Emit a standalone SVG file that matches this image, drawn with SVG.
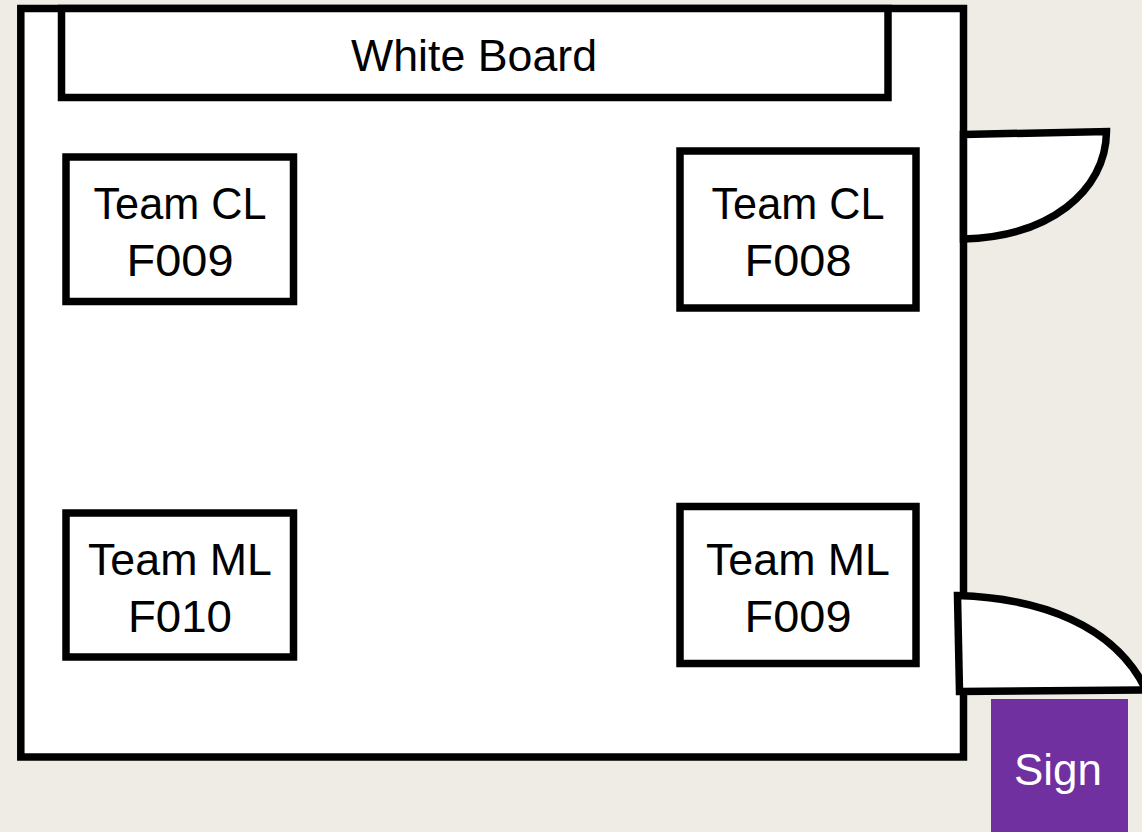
<svg xmlns="http://www.w3.org/2000/svg" width="1142" height="832" viewBox="0 0 1142 832">
<style>
.s{fill:#fff;stroke:#000;stroke-width:7.5}
text{font-family:"Liberation Sans",Arial,sans-serif;font-size:44px;fill:#000;text-anchor:middle}
</style>
<rect width="1142" height="832" fill="#eeece4"/>
<g id="room"><rect class="s" x="20.800" y="8.500" width="942.700" height="748.500"/></g>
<g id="door-top"><path class="s" d="M963.500 134.500L1106.500 131.500C1106 192 1048 237 963.500 239Z"/></g>
<g id="door-bottom"><path class="s" d="M957.500 595.500C1040 598 1115 625 1146 690L959.500 691.500Z"/></g>
<g id="whiteboard"><rect class="s" x="61.500" y="8.500" width="826.500" height="89"/><text x="474" y="70.500" textLength="246" lengthAdjust="spacingAndGlyphs">White Board</text></g>
<g id="desk-cl-f009"><rect class="s" x="66" y="157" width="227.500" height="144.500"/><text x="180" y="218.500" textLength="173" lengthAdjust="spacingAndGlyphs">Team CL</text><text x="180" y="275.500" textLength="107" lengthAdjust="spacingAndGlyphs">F009</text></g>
<g id="desk-cl-f008"><rect class="s" x="680" y="151" width="236" height="157"/><text x="798" y="218.500" textLength="173" lengthAdjust="spacingAndGlyphs">Team CL</text><text x="798" y="275.500" textLength="107" lengthAdjust="spacingAndGlyphs">F008</text></g>
<g id="desk-ml-f010"><rect class="s" x="66" y="513" width="227.500" height="144"/><text x="180" y="574.500" textLength="184" lengthAdjust="spacingAndGlyphs">Team ML</text><text x="180" y="631.500" textLength="104" lengthAdjust="spacingAndGlyphs">F010</text></g>
<g id="desk-ml-f009"><rect class="s" x="680" y="506.500" width="236" height="157"/><text x="798" y="574.500" textLength="184" lengthAdjust="spacingAndGlyphs">Team ML</text><text x="798" y="631.500" textLength="107" lengthAdjust="spacingAndGlyphs">F009</text></g>
<g id="sign"><rect x="991" y="699" width="137" height="133" fill="#7030a0"/><text x="1058" y="785" style="fill:#fff" textLength="88" lengthAdjust="spacingAndGlyphs">Sign</text></g>
</svg>
